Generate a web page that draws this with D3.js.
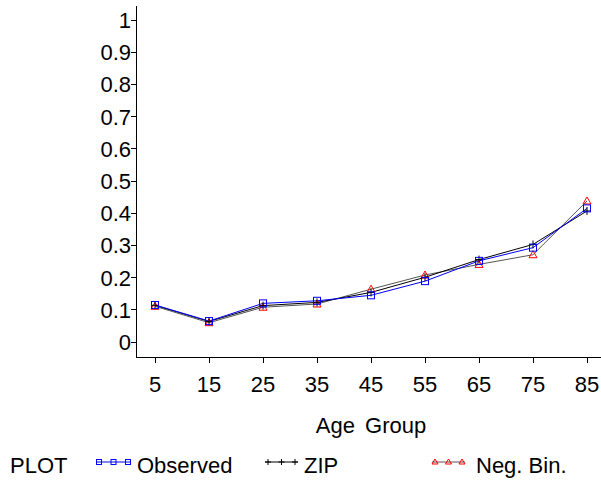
<!DOCTYPE html>
<html><head><meta charset="utf-8">
<script src="https://cdn.jsdelivr.net/npm/d3@7"></script>
<style>body{margin:0;background:#fff;} text{font-family:"Liberation Sans",Arial,sans-serif;}</style>
</head><body>
<svg id="c" width="601" height="483"></svg>
<script>
const ageGroups = [5, 15, 25, 35, 45, 55, 65, 75, 85];
const observed = [0.115, 0.065, 0.120, 0.128, 0.145, 0.189, 0.252, 0.293, 0.415];
const zip      = [0.114, 0.064, 0.113, 0.123, 0.154, 0.201, 0.256, 0.303, 0.407];
const negBin   = [0.111, 0.060, 0.108, 0.118, 0.164, 0.208, 0.241, 0.271, 0.438];
const yTicks = [0, 0.1, 0.2, 0.3, 0.4, 0.5, 0.6, 0.7, 0.8, 0.9, 1];
const yTickLabels = ["0", "0.1", "0.2", "0.3", "0.4", "0.5", "0.6", "0.7", "0.8", "0.9", "1"];
const xTitle = "Age Group";
const legendTitle = "PLOT";
const seriesNames = ["Observed", "ZIP", "Neg. Bin."];

const svg = d3.select("#c");
const x = d3.scalePoint().domain(ageGroups).range([155, 587]);
const y = d3.scaleLinear().domain([0, 1]).range([342, 20]);
const axisLeftX = 136, axisBottomY = 357;

svg.append("line").attr("x1", axisLeftX).attr("x2", axisLeftX).attr("y1", 6).attr("y2", axisBottomY)
  .attr("stroke", "#000").attr("stroke-width", 1).attr("shape-rendering", "crispEdges");
svg.append("line").attr("x1", axisLeftX).attr("x2", 601).attr("y1", axisBottomY).attr("y2", axisBottomY)
  .attr("stroke", "#000").attr("stroke-width", 1).attr("shape-rendering", "crispEdges");

const yg = svg.append("g");
yTicks.forEach((t, i) => {
  yg.append("line").attr("x1", axisLeftX - 5).attr("x2", axisLeftX).attr("y1", y(t)).attr("y2", y(t))
    .attr("stroke", "#000").attr("shape-rendering", "crispEdges");
  yg.append("text").attr("x", axisLeftX - 5).attr("y", y(t)).attr("dy", "0.36em")
    .attr("text-anchor", "end").attr("font-size", 22).text(yTickLabels[i]);
});
const xg = svg.append("g");
ageGroups.forEach(a => {
  xg.append("line").attr("x1", x(a)).attr("x2", x(a)).attr("y1", axisBottomY).attr("y2", axisBottomY + 6)
    .attr("stroke", "#000").attr("shape-rendering", "crispEdges");
  xg.append("text").attr("x", x(a)).attr("y", 392).attr("text-anchor", "middle")
    .attr("font-size", 22).text(a);
});
svg.append("text").attr("x", 371).attr("y", 433).attr("text-anchor", "middle")
  .attr("font-size", 22).attr("word-spacing", 4).text(xTitle);

const series = [
  {name: seriesNames[0], values: observed, line: "#0000ff", mark: "#0000ff", sym: "square"},
  {name: seriesNames[1], values: zip, line: "#000000", mark: "#000000", sym: "plus"},
  {name: seriesNames[2], values: negBin, line: "#555555", mark: "#ff0000", sym: "tri"}
];

function drawMarker(g, sym, color, cx, cy, r) {
  if (sym === "square") {
    g.append("rect").attr("x", cx - r).attr("y", cy - r).attr("width", 2 * r).attr("height", 2 * r)
      .attr("fill", "none").attr("stroke", color).attr("stroke-width", 1);
  } else if (sym === "plus") {
    g.append("path").attr("d", `M${cx-r-0.5},${cy}H${cx+r+0.5}M${cx},${cy-r-0.5}V${cy+r+0.5}`)
      .attr("stroke", color).attr("stroke-width", 1).attr("fill", "none");
  } else {
    g.append("path").attr("d", `M${cx},${cy-r-0.5}L${cx+r+0.5},${cy+r-0.5}L${cx-r-0.5},${cy+r-0.5}Z`)
      .attr("stroke", color).attr("stroke-width", 1).attr("fill", "none");
  }
}

const line = d3.line().x((d, i) => x(ageGroups[i])).y(d => y(d));
[series[2], series[1], series[0]].forEach(s => {
  svg.append("path").attr("d", line(s.values)).attr("fill", "none")
    .attr("stroke", s.line).attr("stroke-width", 1);
});
[series[2], series[1], series[0]].forEach(s => {
  const g = svg.append("g");
  s.values.forEach((v, i) => drawMarker(g, s.sym, s.mark, x(ageGroups[i]), y(v), 3.5));
});

const ly = 462, lb = 473;
svg.append("text").attr("x", 10).attr("y", lb).attr("font-size", 22).text(legendTitle);
const legendPos = [{x0: 96, x1: 131, tx: 137}, {x0: 265, x1: 298, tx: 304}, {x0: 432, x1: 465, tx: 476}];
series.forEach((s, k) => {
  const p = legendPos[k];
  svg.append("line").attr("x1", p.x0).attr("x2", p.x1).attr("y1", ly).attr("y2", ly)
    .attr("stroke", s.line).attr("stroke-width", 1);
  const g = svg.append("g");
  [0, 0.5, 1].forEach(f => drawMarker(g, s.sym, s.mark, p.x0 + 3 + f * (p.x1 - p.x0 - 6), ly, 2.5));
  svg.append("text").attr("x", p.tx).attr("y", lb).attr("font-size", 22).text(s.name);
});
</script>
</body></html>
